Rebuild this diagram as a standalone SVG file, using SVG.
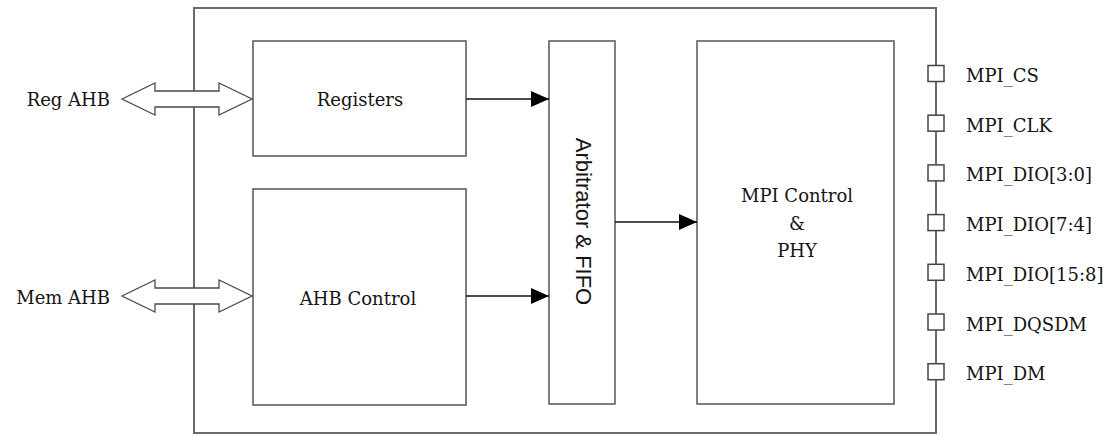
<svg xmlns="http://www.w3.org/2000/svg" width="1118" height="436" viewBox="0 0 1118 436">
  <style>
    .frame { fill: #ffffff; stroke: #6a6a6a; stroke-width: 2; }
    .block { fill: #ffffff; stroke: #555555; stroke-width: 1.5; }
    .bus { fill: #ffffff; stroke: #4a4a4a; stroke-width: 1.3; stroke-linejoin: miter; }
    .pin { fill: #ffffff; stroke: #444444; stroke-width: 1.5; }
    .wire { stroke: #111111; stroke-width: 1.4; fill: none; }
    .lbl { font-family: "DejaVu Serif", "Liberation Serif", serif; font-size: 18px; fill: #141414; }
    .mid { text-anchor: middle; }
    .end { text-anchor: end; }
    .sans { font-family: "Liberation Sans", Arial, sans-serif; font-size: 22px; fill: #141414; text-anchor: middle; }
  </style>
  <defs>
    <marker id="arrow" viewBox="0 0 18 16" refX="18" refY="8" markerWidth="18" markerHeight="16" markerUnits="userSpaceOnUse" orient="auto">
      <path d="M0,0 L18,8 L0,16 Z" fill="#000000"/>
    </marker>
  </defs>

  <!-- chip boundary -->
  <rect id="chip" class="frame" x="194" y="8" width="742" height="425"/>

  <g id="registers">
    <rect class="block" x="253" y="41" width="213" height="115"/>
    <text class="lbl mid" x="360" y="106">Registers</text>
  </g>

  <g id="ahb-control">
    <rect class="block" x="253" y="189" width="213" height="216"/>
    <text class="lbl mid" x="358" y="305">AHB Control</text>
  </g>

  <g id="arbitrator">
    <rect class="block" x="549" y="41" width="66" height="363"/>
    <text class="sans" transform="translate(576 221.5) rotate(90)">Arbitrator &amp; FIFO</text>
  </g>

  <g id="mpi-control">
    <rect class="block" x="697" y="41" width="197" height="363"/>
    <text class="lbl mid" x="797" y="202">MPI Control</text>
    <text class="lbl mid" x="797" y="230">&amp;</text>
    <text class="lbl mid" x="797" y="257">PHY</text>
  </g>

  <!-- bus ports drawn over the boundary line -->
  <g id="reg-ahb">
    <path class="bus" d="M122,99 L155,83 L155,91 L219,91 L219,83 L252,99 L219,115 L219,107 L155,107 L155,115 Z"/>
    <text class="lbl end" x="110" y="106">Reg AHB</text>
  </g>

  <g id="mem-ahb">
    <path class="bus" d="M122,296 L155,280 L155,288 L219,288 L219,280 L252,296 L219,312 L219,304 L155,304 L155,312 Z"/>
    <text class="lbl end" x="110" y="304">Mem AHB</text>
  </g>

  <g id="connectors">
    <line class="wire" x1="466" y1="99" x2="549" y2="99" marker-end="url(#arrow)"/>
    <line class="wire" x1="466" y1="296" x2="549" y2="296" marker-end="url(#arrow)"/>
    <line class="wire" x1="615" y1="222" x2="697" y2="222" marker-end="url(#arrow)"/>
  </g>

  <g id="pins">
    <g id="pin-cs"><rect class="pin" x="928" y="65.5" width="16" height="16"/><text class="lbl" x="966" y="82">MPI_CS</text></g>
    <g id="pin-clk"><rect class="pin" x="928" y="115.2" width="16" height="16"/><text class="lbl" x="966" y="131.7">MPI_CLK</text></g>
    <g id="pin-dio0"><rect class="pin" x="928" y="164.9" width="16" height="16"/><text class="lbl" x="966" y="181.4">MPI_DIO[3:0]</text></g>
    <g id="pin-dio1"><rect class="pin" x="928" y="214.6" width="16" height="16"/><text class="lbl" x="966" y="231.1">MPI_DIO[7:4]</text></g>
    <g id="pin-dio2"><rect class="pin" x="928" y="264.3" width="16" height="16"/><text class="lbl" x="966" y="280.8">MPI_DIO[15:8]</text></g>
    <g id="pin-dqsdm"><rect class="pin" x="928" y="314" width="16" height="16"/><text class="lbl" x="966" y="330.5">MPI_DQSDM</text></g>
    <g id="pin-dm"><rect class="pin" x="928" y="363.7" width="16" height="16"/><text class="lbl" x="966" y="380.2">MPI_DM</text></g>
  </g>
</svg>
